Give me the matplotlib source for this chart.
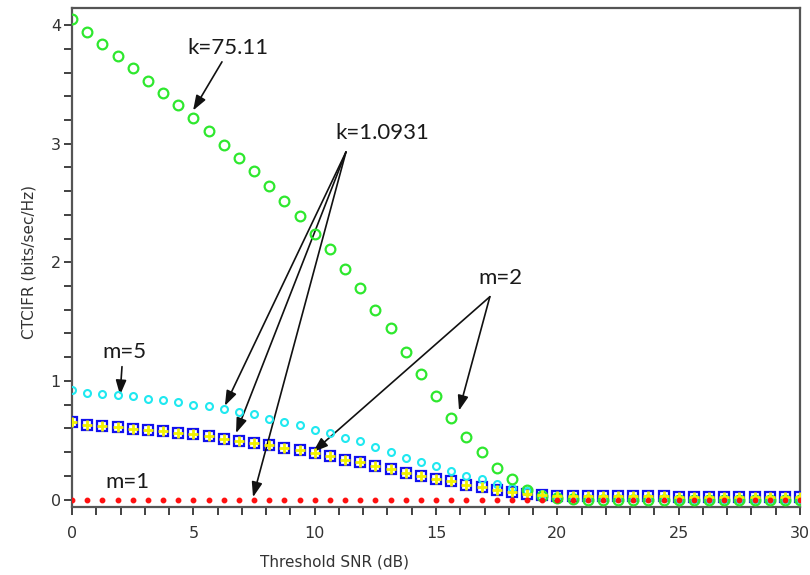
import numpy as np
import matplotlib
matplotlib.use("Agg")
import matplotlib.pyplot as plt

# ---- data ----
snr_db = np.linspace(0, 30, 49)

green_k75 = [4.05, 3.94, 3.84, 3.74, 3.64, 3.53, 3.43, 3.33, 3.22, 3.11,
             2.99, 2.88, 2.77, 2.64, 2.52, 2.39, 2.24, 2.11, 1.94, 1.78,
             1.60, 1.45, 1.24, 1.06, 0.87, 0.69, 0.53, 0.40, 0.27, 0.17,
             0.08, 0.03, 0.01, 0.005, 0.0, 0.0, 0.0, 0.0, 0.0, 0.0,
             0.0, 0.0, 0.0, 0.0, 0.0, 0.0, 0.0, 0.0, 0.0]

cyan_m5 = [0.92, 0.90, 0.89, 0.88, 0.87, 0.85, 0.84, 0.82, 0.80, 0.79,
           0.76, 0.74, 0.72, 0.68, 0.65, 0.63, 0.59, 0.56, 0.52, 0.49,
           0.44, 0.40, 0.35, 0.32, 0.28, 0.24, 0.20, 0.17, 0.13, 0.10,
           0.07, 0.05, 0.03, 0.02, 0.015, 0.01, 0.01, 0.01, 0.01, 0.01,
           0.005, 0.005, 0.005, 0.005, 0.005, 0.005, 0.005, 0.005, 0.005]

blue_m2 = [0.65, 0.63, 0.62, 0.61, 0.595, 0.585, 0.575, 0.56, 0.55, 0.533,
           0.51, 0.49, 0.477, 0.457, 0.435, 0.415, 0.39, 0.365, 0.337, 0.314,
           0.286, 0.255, 0.225, 0.196, 0.174, 0.154, 0.126, 0.107, 0.084, 0.065,
           0.05, 0.04, 0.033, 0.03, 0.028, 0.027, 0.027, 0.027, 0.026, 0.026,
           0.025, 0.022, 0.022, 0.022, 0.022, 0.022, 0.022, 0.022, 0.022]

yellow_m2 = [0.65, 0.63, 0.62, 0.61, 0.595, 0.585, 0.575, 0.56, 0.55, 0.533,
             0.51, 0.49, 0.477, 0.457, 0.435, 0.415, 0.39, 0.365, 0.337, 0.314,
             0.286, 0.255, 0.225, 0.196, 0.174, 0.154, 0.126, 0.107, 0.084, 0.065,
             0.05, 0.04, 0.033, 0.03, 0.028, 0.027, 0.027, 0.027, 0.026, 0.026,
             0.025, 0.022, 0.022, 0.022, 0.022, 0.022, 0.022, 0.022, 0.022]

red_m1 = [0.0, 0.0, 0.0, 0.0, 0.0, 0.0, 0.0, 0.0, 0.0, 0.0,
          0.0, 0.0, 0.0, 0.0, 0.0, 0.0, 0.0, 0.0, 0.0, 0.0,
          0.0, 0.0, 0.0, 0.0, 0.0, 0.0, 0.0, 0.0, 0.0, 0.0,
          0.0, 0.0, 0.0, 0.0, 0.0, 0.0, 0.0, 0.0, 0.0, 0.0,
          0.0, 0.0, 0.0, 0.0, 0.0, 0.0, 0.0, 0.0, 0.0]

x_ticks = [0, 5, 10, 15, 20, 25, 30]
y_ticks = [0, 1, 2, 3, 4]

# ---- figure ----
fig = plt.figure(figsize=(8.1, 5.75), dpi=100)
ax = fig.add_axes([72 / 810, 1 - 507 / 575, (800 - 72) / 810, (507 - 8) / 575])

ax.plot(snr_db, blue_m2, linestyle='none', marker='s', markersize=7.5,
        markerfacecolor='none', markeredgecolor='#1010ee', markeredgewidth=1.6, zorder=3)
ax.plot(snr_db, cyan_m5, linestyle='none', marker='o', markersize=5,
        markerfacecolor='none', markeredgecolor='#20e8f0', markeredgewidth=1.5, zorder=4)
ax.plot(snr_db, green_k75, linestyle='none', marker='o', markersize=7,
        markerfacecolor='none', markeredgecolor='#2ee82e', markeredgewidth=1.6, zorder=5)
ax.plot(snr_db, yellow_m2, linestyle='none', marker='+', markersize=7,
        markeredgecolor='#f2f200', markeredgewidth=2.0, zorder=6)
ax.plot(snr_db, red_m1, linestyle='none', marker='o', markersize=3.2,
        markerfacecolor='#ff1010', markeredgecolor='#ff1010', zorder=7)

ax.set_xlim(0, 30)
ax.set_ylim(-0.063, 4.144)
ax.set_xticks(x_ticks)
ax.set_yticks(y_ticks)
ax.set_xticks(np.arange(0, 31, 1), minor=True)
ax.set_yticks(np.arange(0, 4.01, 0.2), minor=True)
ax.tick_params(axis='both', which='both', direction='out', length=6, width=1.3,
               color='#333333', labelcolor='#333333', labelsize=11.5)
ax.tick_params(axis='y', which='major', pad=2)
ax.tick_params(axis='x', which='major', pad=8)
for s in ax.spines.values():
    s.set_color('#555555')
    s.set_linewidth(1.6)

ax.set_xlabel('Threshold SNR (dB)', fontsize=11, color='#333333')
ax.xaxis.set_label_coords(0.36, -0.095)
ax.set_ylabel('CTCIFR (bits/sec/Hz)', fontsize=11, color='#333333')
ax.yaxis.set_label_coords(-0.049, 0.49)

# ---- annotations ----
afont = dict(fontsize=16, color='#1a1a1a', family=['Lato', 'DejaVu Sans'],
             ha='center', va='center')
ap = dict(arrowstyle='-|>,head_length=0.9,head_width=0.32', color='#111111',
          lw=1.2, shrinkA=0, shrinkB=0)

ax.text(6.43, 3.81, 'k=75.11', **afont)
ax.annotate('', xy=(4.99, 3.28), xytext=(6.18, 3.69), arrowprops=ap)

ax.text(12.77, 3.09, 'k=1.0931', **afont)
for tip in [(6.30, 0.79), (6.76, 0.56), (7.46, 0.02)]:
    ax.annotate('', xy=tip, xytext=(11.29, 2.93), arrowprops=ap)

ax.text(17.64, 1.87, 'm=2', **afont)
for tip in [(9.93, 0.40), (15.95, 0.75)]:
    ax.annotate('', xy=tip, xytext=(17.22, 1.71), arrowprops=ap)

ax.text(2.18, 1.24, 'm=5', **afont)
ax.annotate('', xy=(1.98, 0.88), xytext=(2.06, 1.12), arrowprops=ap)

ax.text(2.27, 0.15, 'm=1', **afont)

fig.savefig('out.png', dpi=100)
